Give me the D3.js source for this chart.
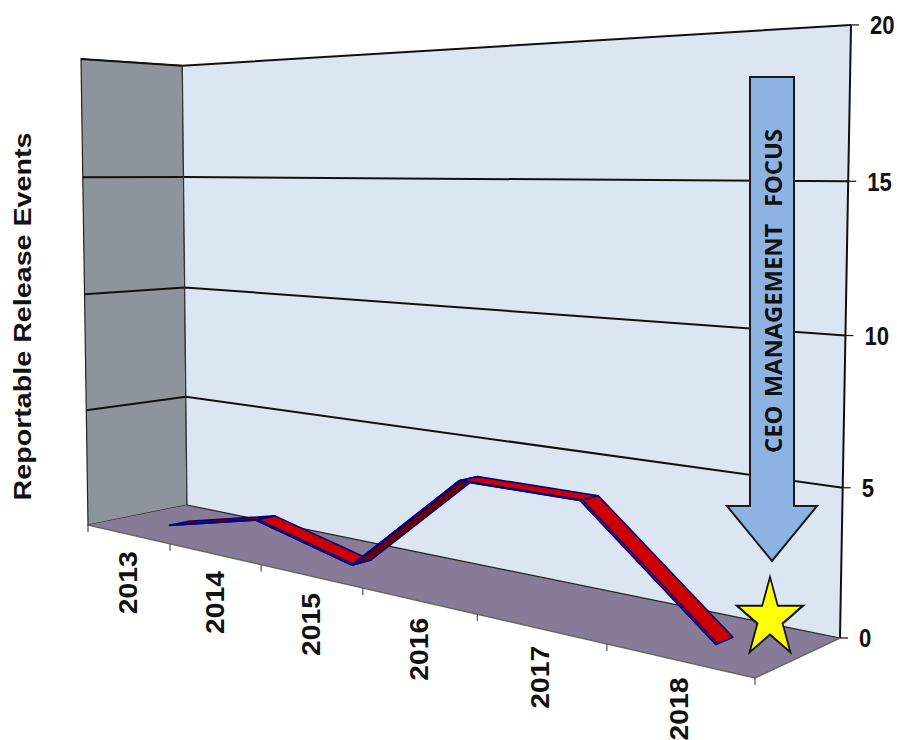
<!DOCTYPE html>
<html>
<head>
<meta charset="utf-8">
<style>
body { margin: 0; background: #fff; }
svg { display: block; }
.year { font: bold 26px "Liberation Sans", Arial, sans-serif; fill: #111; }
.count { font: bold 26px "Liberation Sans", Arial, sans-serif; fill: #111; }
.title { font: bold 24.5px "Liberation Sans", Arial, sans-serif; fill: #111; }
.focus { font: bold 22.4px "Open Sans", sans-serif; fill: #111; white-space: pre; word-spacing: 2px; }
</style>
</head>
<body>
<svg id="chart" width="897" height="740"></svg>
<script src="https://d3js.org/d3.v7.min.js"></script>
<script>
// the data
var years = ["2013", "2014", "2015", "2016", "2017", "2018"];
var events = [0, 1, 0, 4, 4, 0];
var countTicks = [0, 5, 10, 15, 20];

var svg = d3.select("#chart");

// perspective box: screen position of the corners next to the near corner,
// plus the homogeneous weight of each one
var nearCorner = [88, 525], xEnd = [755, 678], yEnd = [81, 59], zEnd = [187, 505];
var wx = 0.7008, wy = 0.98, wz = 1.0604;

function project(u, v, t) {
  var w = 1 + (wx - 1) * u + (wy - 1) * v + (wz - 1) * t;
  return [0, 1].map(function(k) {
    return (nearCorner[k] + u * (wx * xEnd[k] - nearCorner[k]) + v * (wy * yEnd[k] - nearCorner[k]) + t * (wz * zEnd[k] - nearCorner[k])) / w;
  });
}

// set the ranges, all in box units
var x = d3.scaleBand().domain(years).range([0, 1]);
var y = d3.scaleLinear().domain([0, 20]).range([0, 1]);
var line = d3.line();
function polygon(pts) { return line(pts) + "Z"; }

function mid(year) { return x(year) + x.bandwidth() / 2; }

// left wall, back wall, floor
svg.append("path")
    .attr("d", polygon([project(0, 0, 0), project(0, 1, 0), project(0, 1, 1), project(0, 0, 1)]))
    .attr("fill", "#8d949b").attr("stroke", "#222").attr("stroke-width", 1.2);
svg.append("path")
    .attr("d", polygon([project(0, 0, 1), project(0, 1, 1), project(1, 1, 1), project(1, 0, 1)]))
    .attr("fill", "#dce6f2");

// grid lines run along the left wall and then across the back wall
svg.selectAll(".grid").data(countTicks.slice(1)).enter().append("path")
    .attr("class", "grid")
    .attr("d", function(d) { return line([project(0, y(d), 0), project(0, y(d), 1), project(1, y(d), 1)]); })
    .attr("fill", "none").attr("stroke", "#111").attr("stroke-width", 2);

// left wall corner and right wall edge
svg.append("path")
    .attr("d", line([project(0, 0, 1), project(0, 1, 1)]))
    .attr("stroke", "#333").attr("stroke-width", 1.2);
svg.append("path")
    .attr("d", line([project(1, 0, 1), project(1, 1, 1)]))
    .attr("stroke", "#111").attr("stroke-width", 2);

svg.append("path")
    .attr("d", polygon([project(0, 0, 0), project(1, 0, 0), project(1, 0, 1), project(0, 0, 1)]))
    .attr("fill", "#887b98");
svg.append("path")
    .attr("d", line([project(0, 0, 1), project(1, 0, 1)]))
    .attr("stroke", "#222").attr("stroke-width", 1.2);
svg.append("path")
    .attr("d", line([project(0, 0, 0), project(1, 0, 0), project(1, 0, 1)]))
    .attr("fill", "none").attr("stroke", "#666").attr("stroke-width", 1.4);

// count axis on the right
var countAxis = svg.selectAll(".count-tick").data(countTicks).enter().append("g")
    .attr("class", "count-tick")
    .attr("transform", function(d) { return "translate(" + project(1, y(d), 1) + ")"; });
countAxis.append("line")
    .attr("x2", 8)
    .attr("stroke", "#111").attr("stroke-width", 1.2);
countAxis.append("text")
    .attr("class", "count")
    .attr("dy", "0.36em")
    .attr("transform", "translate(19,0) scale(0.85,1)")
    .text(function(d) { return d; });

// year axis along the front of the floor
svg.selectAll(".year-tick").data(years.map(function(d) { return x(d); }).concat(1)).enter().append("path")
    .attr("class", "year-tick")
    .attr("d", function(d) {
      var p = project(d, 0, 0);
      return line([p, [p[0], p[1] + 7]]);
    })
    .attr("stroke", "#333").attr("stroke-width", 1);
svg.selectAll(".year").data(years).enter().append("text")
    .attr("class", "year")
    .attr("text-anchor", "end")
    .attr("dy", "0.36em")
    .attr("transform", function(d) {
      var p = project(mid(d), 0, 0);
      return "translate(" + p[0] + "," + (p[1] + 17) + ") rotate(-90) scale(1.09,1)";
    })
    .text(function(d) { return d; });

// the ribbon, one segment at a time, left to right
var depthFront = 0.405, depthBack = 0.6, depthLip = 0.43;

function quad(i, t0, t1) {
  var a = mid(years[i]), b = mid(years[i + 1]);
  var va = y(events[i]), vb = y(events[i + 1]);
  return polygon([project(a, va, t0), project(b, vb, t0), project(b, vb, t1), project(a, va, t1)]);
}

var segments = d3.range(years.length - 1);
var ribbon = svg.selectAll(".segment").data(segments).enter().append("g")
    .attr("class", "segment");
ribbon.append("path")
    .attr("d", function(i) { return quad(i, depthFront, depthBack); })
    .attr("fill", function(i) { return events[i + 1] > events[i] ? "#6b0000" : "#cc0000"; })
    .attr("stroke", "#000080").attr("stroke-width", 1.6).attr("stroke-linejoin", "round");
ribbon.append("path")
    .attr("d", function(i) { return quad(i, depthFront, depthLip); })
    .attr("fill", "#a00030")
    .attr("stroke", "#000080").attr("stroke-width", 1.4).attr("stroke-linejoin", "round");

// arrow and star callouts
var arrow = [[750, 77], [794, 77], [794, 506], [817, 506], [772, 561], [727, 506], [750, 506]];
svg.append("path")
    .attr("d", polygon(arrow))
    .attr("fill", "#8db3e2").attr("stroke", "#1a1a1a").attr("stroke-width", 2);
svg.append("text")
    .attr("class", "focus")
    .attr("text-anchor", "middle")
    .attr("transform", "translate(782,291) rotate(-90) scale(1.06,1)")
    .text("CEO MANAGEMENT  FOCUS");

svg.append("path")
    .attr("d", d3.symbol(d3.symbolStar, 1351)())
    .attr("transform", "translate(770,618.6) scale(1,1.2)")
    .attr("fill", "#ffff00").attr("stroke", "#111").attr("stroke-width", 1.8);

// Add the Y axis title
svg.append("text")
    .attr("class", "title")
    .attr("text-anchor", "middle")
    .attr("transform", "translate(31,316.5) rotate(-90) scale(1.17,1)")
    .text("Reportable Release Events");
</script>
</body>
</html>
